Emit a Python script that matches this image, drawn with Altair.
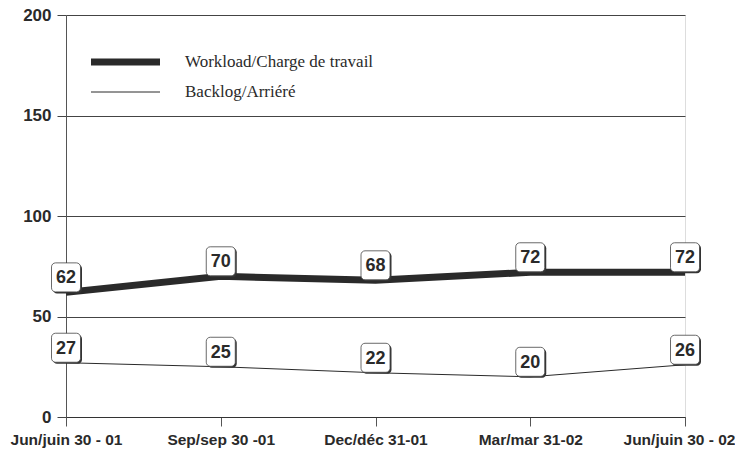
import altair as alt
import pandas as pd

categories = ["Jun/juin 30 - 01", "Sep/sep 30 -01", "Dec/déc 31-01", "Mar/mar 31-02", "Jun/juin 30 - 02"]
workload = [62, 70, 68, 72, 72]
backlog = [27, 25, 22, 20, 26]
series_names = ["Workload/Charge de travail", "Backlog/Arriéré"]

rows = []
for c, w, b in zip(categories, workload, backlog):
    rows.append({"period": c, "value": w, "series": series_names[0]})
    rows.append({"period": c, "value": b, "series": series_names[1]})
df = pd.DataFrame(rows)

legend_df = pd.DataFrame({"series": series_names, "sw": [7, 1]})

W, H = 619, 402
ink = "#2a2a2a"
last_cat = categories[-1]

x = alt.X("period:N", sort=categories, title=None,
          scale=alt.Scale(type="point", padding=0),
          axis=alt.Axis(labelAngle=0, labelFont="Liberation Sans", labelFontWeight="bold",
                        labelFontSize=15.5, labelColor=ink, tickSize=9, tickColor="#555",
                        domainColor="#333", labelPadding=6, grid=False,
                        labelAlign=alt.expr(f"datum.value === '{last_cat}' ? 'right' : 'center'"),
                        labelOffset=alt.expr(f"datum.value === '{last_cat}' ? 50 : 0")))
y = alt.Y("value:Q", title=None,
          scale=alt.Scale(domain=[0, 200]),
          axis=alt.Axis(values=[0, 50, 100, 150, 200], labelFont="Liberation Sans",
                        labelFontWeight="bold", labelFontSize=17, labelColor=ink,
                        tickSize=9, tickColor="#444", domainColor="#555",
                        grid=True, gridColor="#444", gridWidth=1, labelPadding=6))

base = alt.Chart(df)

lines = base.mark_line(color=ink, strokeJoin="miter").encode(
    x=x, y=y,
    strokeWidth=alt.StrokeWidth("series:N", scale=alt.Scale(domain=series_names, range=[7, 1]), legend=None),
    detail="series:N",
)

shadow = base.mark_rect(width=29, height=29, cornerRadius=4, color="#333",
                        xOffset=1.5, yOffset=-13.5).encode(x=x, y=y)
box = base.mark_rect(width=29, height=29, cornerRadius=4, fill="white",
                     stroke="#444", strokeWidth=0.8, yOffset=-15).encode(x=x, y=y)
labels = base.mark_text(font="Liberation Sans", fontWeight="bold", fontSize=18,
                        color=ink, yOffset=-14, baseline="middle").encode(
    x=x, y=y, text="value:Q")

leg_y = alt.Y("series:N", sort=series_names, axis=None,
              scale=alt.Scale(type="point", padding=0, domain=series_names, range=[47, 77]))
leg_rule = alt.Chart(legend_df).mark_rule(color=ink).encode(
    x=alt.value(25), x2=alt.value(94),
    y=leg_y,
    strokeWidth=alt.StrokeWidth("sw:Q", scale=None, legend=None),
)
leg_text = alt.Chart(legend_df).mark_text(font="Liberation Serif", fontSize=17, color=ink,
                                          align="left", baseline="middle").encode(
    x=alt.value(119),
    y=leg_y,
    text="series:N",
)

main = alt.layer(lines, shadow, box, labels).resolve_scale(y="shared")
legend = alt.layer(leg_rule, leg_text)
chart = alt.layer(main, legend).resolve_scale(y="independent").properties(
    width=W, height=H,
    autosize=alt.AutoSizeParams(type="none"),
    padding={"left": 58, "top": 7, "right": 50, "bottom": 32},
).configure_view(stroke=None).configure(background="white")

chart.save("out.html", embed_options={"renderer": "svg", "actions": False})
